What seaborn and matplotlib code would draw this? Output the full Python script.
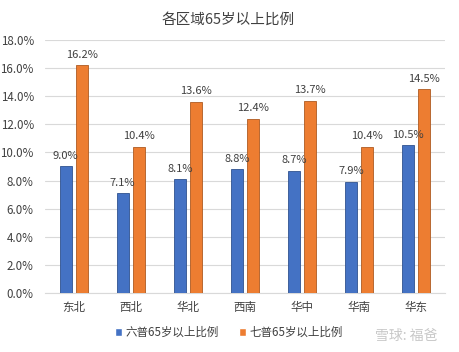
import pandas as pd
import matplotlib.pyplot as plt
import seaborn as sns
from matplotlib.ticker import PercentFormatter

# ------------------------
# Data
# ------------------------
regions = ["东北", "西北", "华北", "西南", "华中", "华南", "华东"]
census6 = [9.0, 7.1, 8.1, 8.8, 8.7, 7.9, 10.5]
census7 = [16.2, 10.4, 13.6, 12.4, 13.7, 10.4, 14.5]
series_names = ["六普65岁以上比例", "七普65岁以上比例"]

df = pd.DataFrame({
    "region": regions * 2,
    "value": census6 + census7,
    "series": [series_names[0]] * len(regions) + [series_names[1]] * len(regions),
})

# ------------------------
# Plot
# ------------------------
sns.set_style("white")
plt.rcParams["font.family"] = ["Noto Sans CJK SC", "DejaVu Sans"]

fig = plt.figure(figsize=(4.59, 3.52), dpi=100)
ax = fig.add_axes([0.098, 0.168, 0.871, 0.718])

palette = {series_names[0]: "#4472C4", series_names[1]: "#ED7D31"}
sns.barplot(data=df, x="region", y="value", hue="series", palette=palette,
            width=0.56, gap=0.25, saturation=1, ax=ax, zorder=3)

edge = {series_names[0]: "#2F528F", series_names[1]: "#AE5A21"}
for cont, name in zip(ax.containers, series_names):
    for bar in cont:
        bar.set_edgecolor(edge[name])
        bar.set_linewidth(0.6)
    ax.bar_label(cont, fmt="%.1f%%", padding=4, fontsize=8, color="#404040")

ax.set_ylim(0, 18)
ax.set_yticks(range(0, 19, 2))
ax.yaxis.set_major_formatter(PercentFormatter(decimals=1))
ax.grid(axis="y", color="#D9D9D9", linewidth=0.8, zorder=0)
ax.set_xlabel("")
ax.set_ylabel("")
for s in ["top", "right", "left"]:
    ax.spines[s].set_visible(False)
ax.spines["bottom"].set_color("#D9D9D9")
ax.tick_params(axis="both", length=0, labelsize=8.3, labelcolor="#404040")
ax.tick_params(axis="x", pad=6)
ax.tick_params(axis="y", pad=8)

fig.text(0.497, 0.945, "各区域65岁以上比例", fontsize=10.5, color="#404040",
         ha="center", va="center")

ax.legend(loc="upper center", bbox_to_anchor=(0.46, -0.09), ncol=2,
          frameon=False, fontsize=8.3, handlelength=0.6, handleheight=0.6,
          columnspacing=1.8, handletextpad=0.3, labelcolor="#404040")

fig.text(0.885, 0.045, "雪球: 福爸", fontsize=10, color="#C8C8C8", ha="center", va="center")

plt.savefig("out.png", dpi=100)
